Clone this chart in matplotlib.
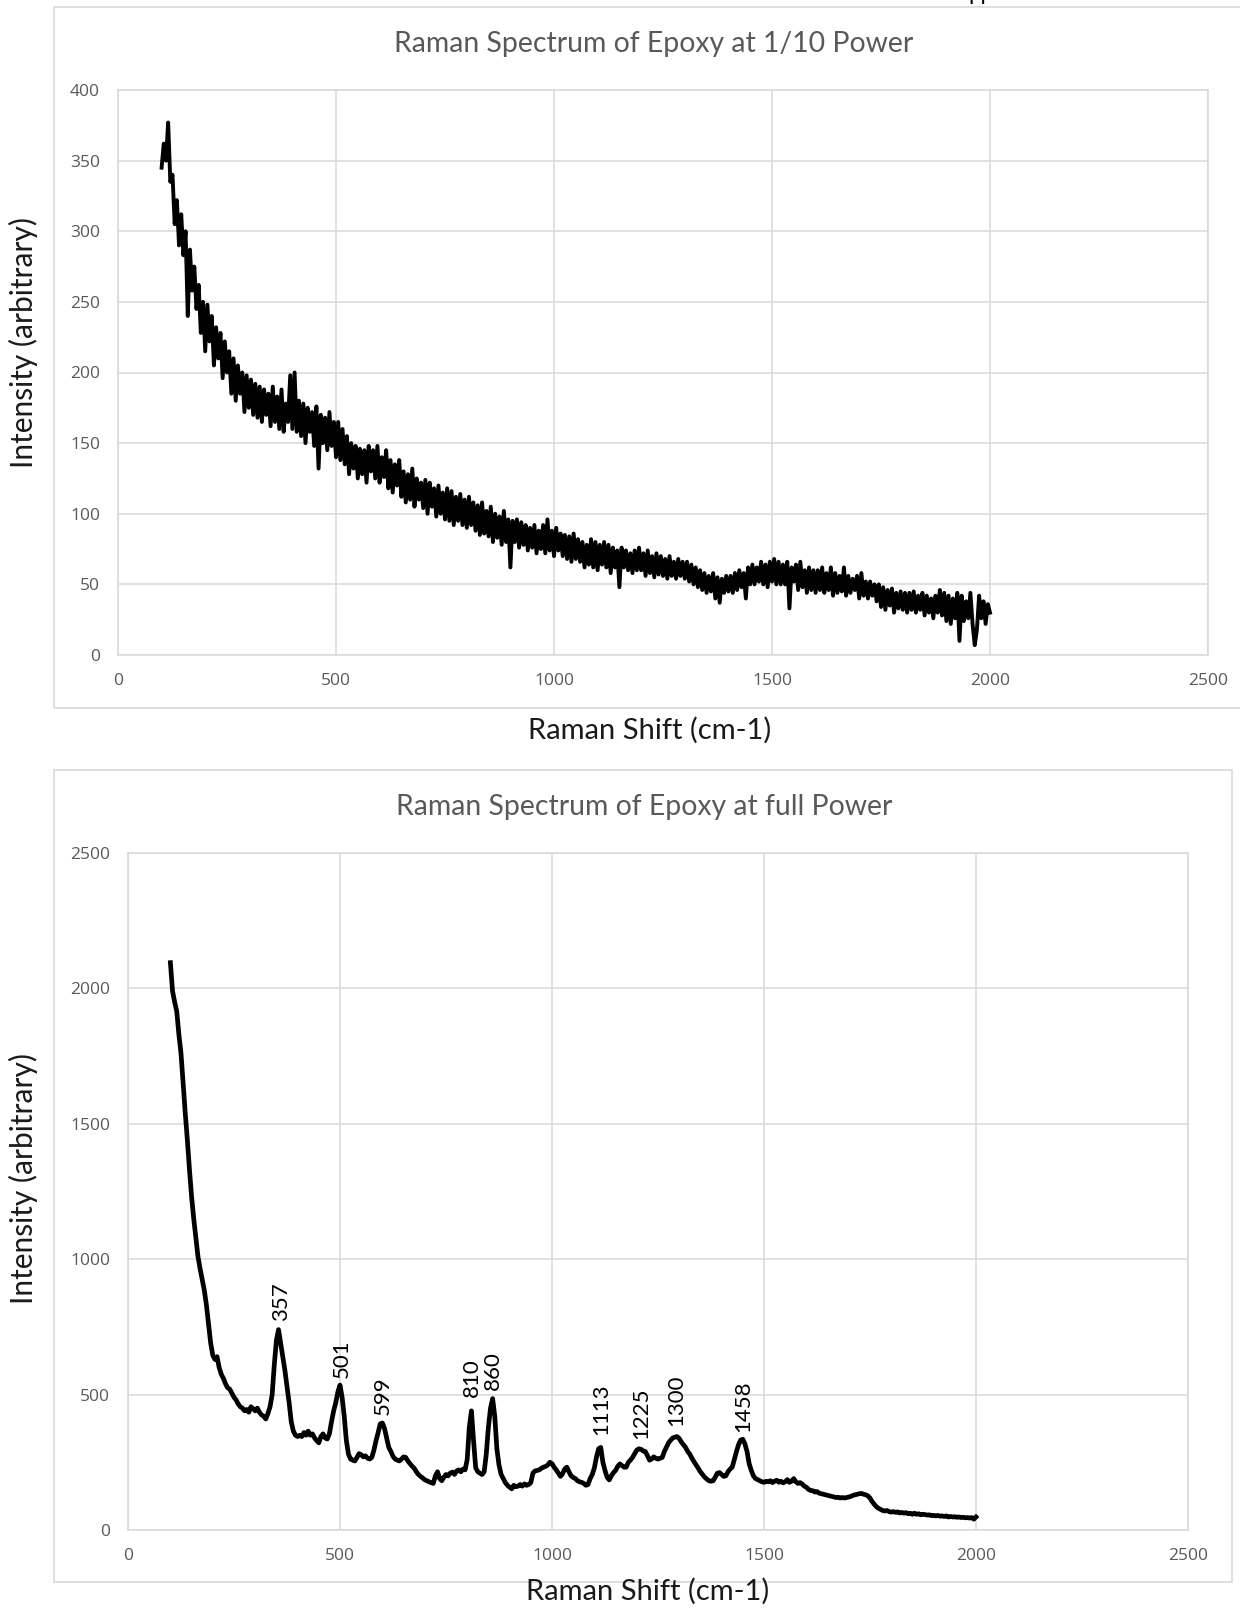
import numpy as np
import matplotlib.pyplot as plt
from matplotlib.patches import Rectangle

W, H = 1240, 1609

# Raman shift sampling (cm-1), 100 -> 2000 every 5
shift = np.arange(100, 2001, 5)

# intensity
tenth_power = [
    345, 362, 350, 377, 335, 340, 305, 322, 290, 312, 283, 300, 240, 287, 258, 275, 245, 262, 228, 250,
    215, 248, 222, 240, 205, 232, 210, 228, 196, 222, 200, 215, 185, 210, 180, 205, 185, 200, 172, 198,
    175, 195, 170, 192, 168, 190, 165, 188, 170, 185, 162, 190, 165, 183, 160, 188, 158, 178, 165, 198,
    160, 200, 158, 180, 155, 178, 150, 175, 158, 172, 148, 176, 132, 170, 150, 168, 145, 172, 148, 165,
    140, 165, 138, 160, 135, 155, 128, 150, 132, 148, 125, 146, 128, 145, 122, 148, 130, 145, 125, 148,
    122, 140, 126, 145, 118, 138, 115, 135, 120, 138, 112, 130, 108, 128, 110, 132, 105, 125, 110, 122,
    104, 124, 100, 122, 105, 118, 98, 120, 100, 115, 96, 118, 95, 116, 92, 112, 95, 114, 92, 110,
    90, 112, 92, 108, 88, 106, 85, 108, 86, 102, 84, 105, 80, 100, 83, 98, 78, 102, 80, 96,
    62, 95, 80, 96, 76, 94, 78, 92, 74, 90, 76, 92, 72, 88, 75, 92, 72, 96, 74, 88,
    70, 90, 74, 86, 70, 85, 68, 84, 66, 86, 68, 82, 66, 80, 62, 78, 64, 82, 62, 80,
    60, 78, 64, 80, 62, 78, 58, 76, 62, 74, 48, 76, 62, 74, 60, 72, 58, 74, 60, 76,
    60, 72, 56, 74, 58, 70, 55, 72, 57, 70, 56, 68, 54, 70, 56, 66, 54, 68, 56, 66,
    54, 66, 52, 64, 50, 62, 48, 60, 46, 58, 44, 56, 45, 58, 40, 55, 37, 54, 44, 56,
    45, 56, 44, 58, 46, 60, 48, 58, 40, 62, 50, 64, 50, 62, 52, 66, 50, 64, 48, 66,
    52, 68, 50, 66, 50, 64, 50, 66, 33, 62, 52, 64, 46, 66, 48, 60, 44, 62, 46, 60,
    44, 60, 46, 62, 44, 58, 46, 62, 42, 58, 44, 56, 45, 62, 42, 56, 44, 54, 46, 56,
    40, 58, 42, 52, 40, 52, 42, 50, 38, 50, 34, 48, 32, 46, 35, 47, 30, 44, 33, 45,
    32, 44, 30, 44, 32, 45, 30, 42, 32, 44, 28, 42, 30, 40, 26, 42, 30, 46, 28, 44,
    24, 42, 22, 40, 26, 44, 10, 42, 24, 38, 26, 44, 22, 7, 18, 42, 26, 38, 22, 36, 30,
]

# intensity
full_power = [
    2095, 1990, 1950, 1915, 1830, 1760, 1650, 1540, 1440, 1330, 1230, 1150, 1080, 1010, 965, 925, 885, 830, 760, 690,
    645, 630, 640, 600, 575, 560, 540, 525, 520, 505, 490, 480, 465, 455, 450, 440, 445, 435, 455, 448,
    440, 450, 435, 425, 420, 410, 430, 455, 500, 610, 700, 740, 690, 640, 590, 530, 470, 400, 365, 350,
    345, 350, 345, 360, 350, 365, 350, 355, 340, 330, 322, 345, 355, 340, 336, 355, 400, 440, 470, 510,
    535, 490, 420, 330, 280, 262, 258, 255, 268, 282, 278, 270, 274, 265, 262, 268, 295, 330, 360, 392,
    395, 375, 340, 305, 290, 272, 262, 258, 255, 262, 270, 268, 255, 245, 236, 228, 215, 205, 198, 192,
    185, 182, 178, 175, 172, 200, 215, 190, 182, 195, 205, 200, 210, 214, 205, 218, 222, 215, 225, 222,
    260, 380, 440, 330, 230, 215, 210, 205, 215, 280, 380, 450, 485, 420, 300, 240, 205, 190, 175, 165,
    158, 152, 165, 160, 162, 168, 162, 170, 165, 168, 175, 210, 218, 220, 222, 228, 232, 235, 240, 250,
    245, 232, 222, 210, 198, 208, 225, 232, 215, 200, 194, 190, 182, 178, 176, 172, 165, 168, 190, 205,
    230, 270, 300, 305, 250, 220, 195, 185, 200, 212, 220, 235, 244, 238, 232, 232, 250, 258, 268, 282,
    295, 300, 298, 292, 290, 275, 258, 262, 270, 265, 262, 265, 268, 290, 306, 322, 332, 340, 343, 345,
    338, 325, 315, 305, 290, 280, 265, 252, 240, 228, 215, 205, 195, 188, 182, 180, 182, 195, 210, 212,
    205, 198, 200, 215, 225, 232, 260, 290, 315, 332, 335, 318, 290, 245, 220, 200, 190, 186, 182, 178,
    176, 180, 178, 182, 175, 180, 184, 176, 180, 174, 178, 186, 176, 180, 190, 178, 172, 175, 170, 162,
    158, 150, 146, 145, 140, 142, 136, 134, 132, 130, 128, 126, 124, 122, 120, 121, 118, 120, 118, 120,
    122, 124, 128, 130, 132, 134, 135, 132, 130, 126, 118, 105, 95, 86, 80, 76, 72, 70, 72, 68,
    66, 68, 65, 67, 63, 65, 62, 64, 60, 62, 58, 62, 58, 60, 56, 58, 57, 55, 56, 53,
    54, 52, 54, 51, 52, 50, 52, 48, 50, 48, 49, 47, 48, 46, 47, 45, 46, 44, 46, 40, 48,
]

peak_labels = ["357", "501", "599", "810", "860", "1113", "1225", "1300", "1458"]
peak_label_x = [360, 505, 602, 810, 861, 1115, 1210, 1294, 1451]
peak_label_y = [772, 563, 424, 491, 516, 351, 335, 385, 363]

x_ticks = [0, 500, 1000, 1500, 2000, 2500]
top_y_ticks = [0, 50, 100, 150, 200, 250, 300, 350, 400]
bottom_y_ticks = [0, 500, 1000, 1500, 2000, 2500]

grid_col = "#d9d9d9"
tick_col = "#595959"
label_font = ["Lato", "DejaVu Sans"]
tick_font = ["Open Sans", "DejaVu Sans"]

fig = plt.figure(figsize=(W / 100, H / 100), dpi=100)


def fx(px):
    return px / W


def fy(py):
    return 1 - py / H


def frame(x0, y0, x1, y1):
    fig.add_artist(Rectangle((fx(x0), fy(y1)), (x1 - x0) / W, (y1 - y0) / H,
                             transform=fig.transFigure, fill=False,
                             edgecolor=grid_col, lw=1.2))


frame(54, 7, 1260, 708)
frame(54, 770, 1232, 1582)


def style_axes(ax, yticks, ymax):
    ax.set_xlim(0, 2500)
    ax.set_ylim(0, ymax)
    ax.set_xticks(x_ticks)
    ax.set_yticks(yticks)
    ax.grid(True, color=grid_col, lw=1.1)
    ax.set_axisbelow(True)
    for s in ax.spines.values():
        s.set_color(grid_col)
        s.set_linewidth(1.1)
    ax.tick_params(length=0, labelsize=12.5, labelcolor=tick_col, pad=13)
    for lab in ax.get_xticklabels() + ax.get_yticklabels():
        lab.set_family(tick_font)


ax1 = fig.add_axes([fx(118), fy(655), 1090 / W, 565 / H])
style_axes(ax1, top_y_ticks, 400)
ax1.plot(shift, tenth_power, color="black", lw=2.8, solid_joinstyle="round")

ax2 = fig.add_axes([fx(128), fy(1530), 1060 / W, 677 / H])
style_axes(ax2, bottom_y_ticks, 2500)
ax2.plot(shift, full_power, color="black", lw=3.4, solid_joinstyle="round")

for lab, px_, py_ in zip(peak_labels, peak_label_x, peak_label_y):
    ax2.text(px_, py_, lab, rotation=90, ha="center", va="bottom",
             fontsize=16, family=label_font, color="black")

# titles and axis labels
fig.text(fx(654), fy(44), "Raman Spectrum of Epoxy at 1/10 Power", ha="center", va="center",
         fontsize=20.4, family=label_font, color=tick_col)
fig.text(fx(644), fy(807), "Raman Spectrum of Epoxy at full Power", ha="center", va="center",
         fontsize=20.4, family=label_font, color=tick_col)
fig.text(fx(650), fy(730), "Raman Shift (cm-1)", ha="center", va="center",
         fontsize=21, family=label_font, color="#1a1a1a")
fig.text(fx(648), fy(1591), "Raman Shift (cm-1)", ha="center", va="center",
         fontsize=21, family=label_font, color="#1a1a1a")
fig.text(fx(23), fy(342), "Intensity (arbitrary)", ha="center", va="center", rotation=90,
         fontsize=21.5, family=label_font, color="#1a1a1a")
fig.text(fx(23), fy(1178), "Intensity (arbitrary)", ha="center", va="center", rotation=90,
         fontsize=21.5, family=label_font, color="#1a1a1a")

# clipped text from the page above
fig.text(fx(968), 1.0, "pp", ha="left", va="baseline", fontsize=16,
         family=label_font, color="black")

fig.savefig("out.png", dpi=100)
